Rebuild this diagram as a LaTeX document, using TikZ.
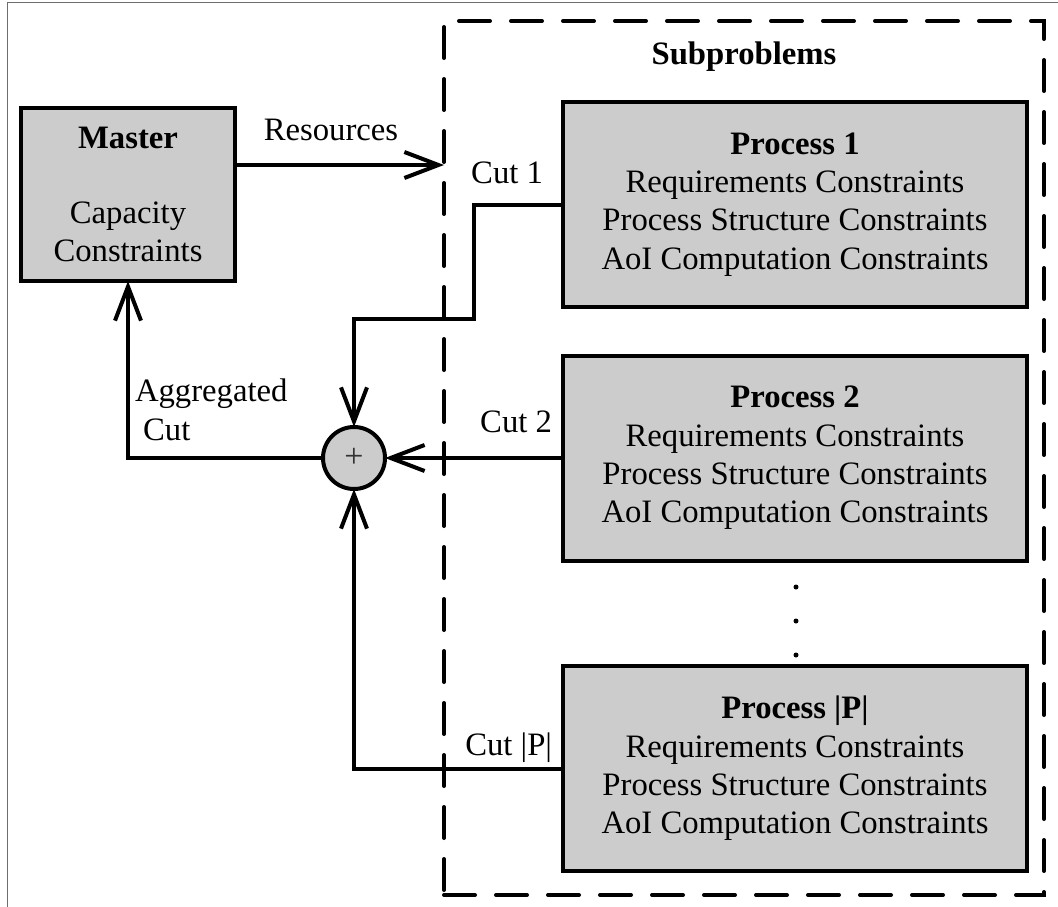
\documentclass[tikz,border=0pt]{standalone}
\usepackage{fontspec}
\setmainfont{Liberation Serif}
\usetikzlibrary{arrows.meta}
\definecolor{boxgray}{HTML}{CCCCCC}
\definecolor{framegray}{HTML}{6E6E6E}
\begin{document}
\begin{tikzpicture}[x=1pt,y=-1pt,
  font=\fontsize{32.7}{38.3}\selectfont,
  every node/.style={inner sep=0pt, outer sep=0pt},
  block/.style={draw, line width=4pt, fill=boxgray, align=center},
  procbox/.style={block, minimum width=464pt, minimum height=205pt},
  dashbox/.style={draw, line width=4pt, dash pattern=on 31pt off 21pt, line cap=round,
                  minimum width=600pt, minimum height=874pt},
  sumnode/.style={draw, circle, line width=4pt, fill=boxgray, minimum size=62pt},
  arr/.style={line width=4pt, -{Straight Barb[length=34pt,width=26pt]}},
  dotmark/.style={fill, circle, minimum size=5pt},
  lbl/.style={anchor=base}]
\useasboundingbox (0,0) rectangle (1058,907);

% outer frame
\draw[framegray, line width=1.5pt] (7.5,907) -- (7.5,2.5) -- (1058,2.5);

% subproblem region
\node[dashbox] (sub) at (744,458) {};
\node[lbl, font=\fontsize{32.7}{38.3}\selectfont\bfseries] (subtitle) at (744,65) {Subproblems};

% master problem
\node[block, minimum width=214pt, minimum height=173pt] (M) at (128,194.5)
  {\textbf{Master}\\[37pt]Capacity\\Constraints};

% process subproblems
\node[procbox] (P1) at (795,204.5) {\textbf{Process 1}\\Requirements Constraints\\Process Structure Constraints\\AoI Computation Constraints};
\node[procbox] (P2) at (795,458) {\textbf{Process 2}\\Requirements Constraints\\Process Structure Constraints\\AoI Computation Constraints};
\node[procbox] (P3) at (795,768.5) {\textbf{Process |P|}\\Requirements Constraints\\Process Structure Constraints\\AoI Computation Constraints};

% vertical ellipsis
\node[dotmark] (d1) at (796,587) {};
\node[dotmark] (d2) at (796,621) {};
\node[dotmark] (d3) at (796,655) {};

% summing junction
\node[sumnode] (S) at (354,458) {\fontsize{34}{34}\selectfont\color{black!80}+};

% helper points
\coordinate (ry) at (0,165);
\coordinate (k1) at (474,319);

% connectors
\draw[arr] (M.east |- ry) -- (sub.west |- ry);
\draw[arr] (P1.west) -| (k1) -| (S.north);
\draw[arr] (P2.west) -- (S.east);
\draw[arr] (P3.west) -| (S.south);
\draw[arr] (S.west) -| (M.south);

% labels
\node[lbl] (lres) at (331,140) {Resources};
\node[anchor=base east] (lc1) at (543,183) {Cut 1};
\node[anchor=base east] (lc2) at (552,432) {Cut 2};
\node[anchor=base east] (lc3) at (552,755) {Cut |P|};
\node[anchor=base west, align=left] (lagg) at (135,440) {Aggregated\\\hspace*{0.25em}Cut};
\end{tikzpicture}
\end{document}
